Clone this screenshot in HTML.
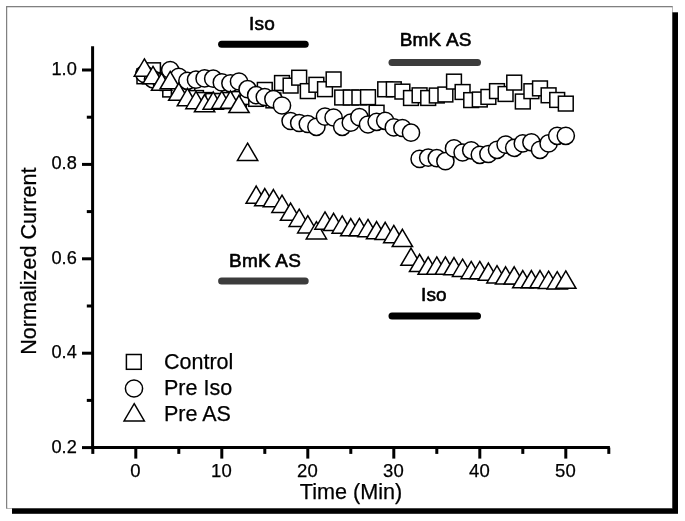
<!DOCTYPE html>
<html><head><meta charset="utf-8"><title>chart</title>
<style>
html,body{margin:0;padding:0;background:#fff;}
body{width:685px;height:521px;overflow:hidden;font-family:"Liberation Sans",sans-serif;}
svg{display:block;will-change:transform;}
</style></head><body>
<svg width="685" height="521" viewBox="0 0 685 521">
<rect x="0" y="0" width="685" height="521" fill="#fff"/>
<!-- shadow -->
<rect x="12" y="12.3" width="666" height="501.5" fill="#000"/>
<!-- frame -->
<rect x="6.65" y="6.65" width="665.35" height="501.35" fill="#fff" stroke="#808080" stroke-width="1.1"/>
<rect x="7.2" y="7.2" width="664.8" height="500.8" fill="#fff"/>
<path d="M6.65 508.5V6.65H672.5" fill="none" stroke="#808080" stroke-width="1.1"/>
<g stroke-width="7" stroke-linecap="round" fill="none">
<path d="M221.6 44.3H305.2" stroke="#000"/>
<path d="M392 62.5H477.5" stroke="#3c3c3c"/>
<path d="M221.6 281H305.2" stroke="#3c3c3c"/>
<path d="M392 316H477.5" stroke="#000"/>
</g>
<g fill="#fff" stroke="#000" stroke-width="1.5" stroke-linejoin="miter">
<rect x="137.00" y="68.90" width="14.8" height="14.8"/>
<rect x="145.60" y="62.85" width="14.8" height="14.8"/>
<rect x="154.20" y="72.60" width="14.8" height="14.8"/>
<rect x="162.80" y="82.10" width="14.8" height="14.8"/>
<rect x="171.40" y="83.60" width="14.8" height="14.8"/>
<rect x="180.00" y="87.60" width="14.8" height="14.8"/>
<rect x="188.60" y="90.60" width="14.8" height="14.8"/>
<rect x="197.20" y="92.60" width="14.8" height="14.8"/>
<rect x="205.80" y="93.60" width="14.8" height="14.8"/>
<rect x="214.40" y="93.60" width="14.8" height="14.8"/>
<rect x="223.00" y="92.60" width="14.8" height="14.8"/>
<rect x="231.60" y="91.60" width="14.8" height="14.8"/>
<rect x="240.20" y="89.60" width="14.8" height="14.8"/>
<rect x="248.80" y="91.50" width="14.8" height="14.8"/>
<rect x="257.40" y="82.50" width="14.8" height="14.8"/>
<rect x="266.00" y="93.00" width="14.8" height="14.8"/>
<rect x="274.60" y="75.60" width="14.8" height="14.8"/>
<rect x="283.20" y="78.20" width="14.8" height="14.8"/>
<rect x="291.80" y="70.30" width="14.8" height="14.8"/>
<rect x="300.40" y="83.70" width="14.8" height="14.8"/>
<rect x="309.00" y="77.40" width="14.8" height="14.8"/>
<rect x="317.60" y="81.80" width="14.8" height="14.8"/>
<rect x="326.20" y="72.00" width="14.8" height="14.8"/>
<rect x="334.80" y="90.10" width="14.8" height="14.8"/>
<rect x="343.40" y="90.10" width="14.8" height="14.8"/>
<rect x="352.00" y="90.10" width="14.8" height="14.8"/>
<rect x="360.60" y="89.80" width="14.8" height="14.8"/>
<rect x="369.20" y="105.30" width="14.8" height="14.8"/>
<rect x="377.80" y="81.90" width="14.8" height="14.8"/>
<rect x="386.40" y="81.90" width="14.8" height="14.8"/>
<rect x="395.00" y="84.20" width="14.8" height="14.8"/>
<rect x="403.60" y="90.60" width="14.8" height="14.8"/>
<rect x="412.20" y="87.90" width="14.8" height="14.8"/>
<rect x="420.80" y="90.60" width="14.8" height="14.8"/>
<rect x="429.40" y="88.10" width="14.8" height="14.8"/>
<rect x="438.00" y="87.10" width="14.8" height="14.8"/>
<rect x="446.60" y="74.20" width="14.8" height="14.8"/>
<rect x="455.20" y="84.60" width="14.8" height="14.8"/>
<rect x="463.80" y="92.70" width="14.8" height="14.8"/>
<rect x="472.40" y="92.10" width="14.8" height="14.8"/>
<rect x="481.00" y="89.50" width="14.8" height="14.8"/>
<rect x="489.60" y="83.70" width="14.8" height="14.8"/>
<rect x="498.20" y="86.60" width="14.8" height="14.8"/>
<rect x="506.80" y="75.20" width="14.8" height="14.8"/>
<rect x="515.40" y="94.10" width="14.8" height="14.8"/>
<rect x="524.00" y="83.80" width="14.8" height="14.8"/>
<rect x="532.60" y="81.00" width="14.8" height="14.8"/>
<rect x="541.20" y="87.90" width="14.8" height="14.8"/>
<rect x="549.80" y="92.55" width="14.8" height="14.8"/>
<rect x="558.40" y="96.20" width="14.8" height="14.8"/>
<circle cx="144.40" cy="74.00" r="8.6"/>
<circle cx="153.00" cy="79.30" r="8.6"/>
<circle cx="161.60" cy="82.00" r="8.6"/>
<circle cx="170.20" cy="70.00" r="8.6"/>
<circle cx="178.80" cy="76.80" r="8.6"/>
<circle cx="187.40" cy="80.80" r="8.6"/>
<circle cx="196.00" cy="79.70" r="8.6"/>
<circle cx="204.60" cy="78.40" r="8.6"/>
<circle cx="213.20" cy="78.70" r="8.6"/>
<circle cx="221.80" cy="82.40" r="8.6"/>
<circle cx="230.40" cy="83.30" r="8.6"/>
<circle cx="239.00" cy="81.50" r="8.6"/>
<circle cx="247.60" cy="89.20" r="8.6"/>
<circle cx="256.20" cy="95.20" r="8.6"/>
<circle cx="264.80" cy="97.00" r="8.6"/>
<circle cx="273.40" cy="99.10" r="8.6"/>
<circle cx="282.00" cy="105.50" r="8.6"/>
<circle cx="290.60" cy="121.00" r="8.6"/>
<circle cx="299.20" cy="123.00" r="8.6"/>
<circle cx="307.80" cy="124.00" r="8.6"/>
<circle cx="316.40" cy="126.80" r="8.6"/>
<circle cx="325.00" cy="116.60" r="8.6"/>
<circle cx="333.60" cy="117.50" r="8.6"/>
<circle cx="342.20" cy="126.80" r="8.6"/>
<circle cx="350.80" cy="122.70" r="8.6"/>
<circle cx="359.40" cy="117.10" r="8.6"/>
<circle cx="368.00" cy="124.50" r="8.6"/>
<circle cx="376.60" cy="121.80" r="8.6"/>
<circle cx="385.20" cy="120.80" r="8.6"/>
<circle cx="393.80" cy="127.40" r="8.6"/>
<circle cx="402.40" cy="128.00" r="8.6"/>
<circle cx="411.00" cy="132.70" r="8.6"/>
<circle cx="419.60" cy="158.90" r="8.6"/>
<circle cx="428.20" cy="157.70" r="8.6"/>
<circle cx="436.80" cy="158.20" r="8.6"/>
<circle cx="445.40" cy="161.20" r="8.6"/>
<circle cx="454.00" cy="148.40" r="8.6"/>
<circle cx="462.60" cy="152.50" r="8.6"/>
<circle cx="471.20" cy="150.30" r="8.6"/>
<circle cx="479.80" cy="154.80" r="8.6"/>
<circle cx="488.40" cy="154.00" r="8.6"/>
<circle cx="497.00" cy="149.80" r="8.6"/>
<circle cx="505.60" cy="144.60" r="8.6"/>
<circle cx="514.20" cy="147.80" r="8.6"/>
<circle cx="522.80" cy="143.40" r="8.6"/>
<circle cx="531.40" cy="142.30" r="8.6"/>
<circle cx="540.00" cy="149.80" r="8.6"/>
<circle cx="548.60" cy="143.40" r="8.6"/>
<circle cx="557.20" cy="135.80" r="8.6"/>
<circle cx="565.80" cy="135.80" r="8.6"/>
<path d="M144.40 58.87L154.55 76.17L134.25 76.17Z"/>
<path d="M153.00 66.47L163.15 83.77L142.85 83.77Z"/>
<path d="M161.60 73.07L171.75 90.37L151.45 90.37Z"/>
<path d="M170.20 71.47L180.35 88.77L160.05 88.77Z"/>
<path d="M178.80 83.07L188.95 100.37L168.65 100.37Z"/>
<path d="M187.40 88.47L197.55 105.77L177.25 105.77Z"/>
<path d="M196.00 91.37L206.15 108.67L185.85 108.67Z"/>
<path d="M204.60 94.57L214.75 111.87L194.45 111.87Z"/>
<path d="M213.20 91.87L223.35 109.17L203.05 109.17Z"/>
<path d="M221.80 91.17L231.95 108.47L211.65 108.47Z"/>
<path d="M230.40 90.87L240.55 108.17L220.25 108.17Z"/>
<path d="M239.00 95.27L249.15 112.57L228.85 112.57Z"/>
<path d="M247.60 143.17L257.75 160.47L237.45 160.47Z"/>
<path d="M256.20 186.07L266.35 203.37L246.05 203.37Z"/>
<path d="M264.80 188.57L274.95 205.87L254.65 205.87Z"/>
<path d="M273.40 189.57L283.55 206.87L263.25 206.87Z"/>
<path d="M282.00 195.17L292.15 212.47L271.85 212.47Z"/>
<path d="M290.60 203.07L300.75 220.37L280.45 220.37Z"/>
<path d="M299.20 209.17L309.35 226.47L289.05 226.47Z"/>
<path d="M307.80 215.67L317.95 232.97L297.65 232.97Z"/>
<path d="M316.40 221.67L326.55 238.97L306.25 238.97Z"/>
<path d="M325.00 211.87L335.15 229.17L314.85 229.17Z"/>
<path d="M333.60 213.27L343.75 230.57L323.45 230.57Z"/>
<path d="M342.20 215.87L352.35 233.17L332.05 233.17Z"/>
<path d="M350.80 218.57L360.95 235.87L340.65 235.87Z"/>
<path d="M359.40 218.47L369.55 235.77L349.25 235.77Z"/>
<path d="M368.00 219.37L378.15 236.67L357.85 236.67Z"/>
<path d="M376.60 221.57L386.75 238.87L366.45 238.87Z"/>
<path d="M385.20 222.27L395.35 239.57L375.05 239.57Z"/>
<path d="M393.80 225.47L403.95 242.77L383.65 242.77Z"/>
<path d="M402.40 229.27L412.55 246.57L392.25 246.57Z"/>
<path d="M411.00 248.07L421.15 265.37L400.85 265.37Z"/>
<path d="M419.60 254.27L429.75 271.57L409.45 271.57Z"/>
<path d="M428.20 257.07L438.35 274.37L418.05 274.37Z"/>
<path d="M436.80 256.97L446.95 274.27L426.65 274.27Z"/>
<path d="M445.40 256.97L455.55 274.27L435.25 274.27Z"/>
<path d="M454.00 257.57L464.15 274.87L443.85 274.87Z"/>
<path d="M462.60 259.17L472.75 276.47L452.45 276.47Z"/>
<path d="M471.20 261.37L481.35 278.67L461.05 278.67Z"/>
<path d="M479.80 261.37L489.95 278.67L469.65 278.67Z"/>
<path d="M488.40 263.07L498.55 280.37L478.25 280.37Z"/>
<path d="M497.00 265.67L507.15 282.97L486.85 282.97Z"/>
<path d="M505.60 266.77L515.75 284.07L495.45 284.07Z"/>
<path d="M514.20 266.77L524.35 284.07L504.05 284.07Z"/>
<path d="M522.80 270.57L532.95 287.87L512.65 287.87Z"/>
<path d="M531.40 270.57L541.55 287.87L521.25 287.87Z"/>
<path d="M540.00 270.57L550.15 287.87L529.85 287.87Z"/>
<path d="M548.60 271.17L558.75 288.47L538.45 288.47Z"/>
<path d="M557.20 271.67L567.35 288.97L547.05 288.97Z"/>
<path d="M565.80 270.97L575.95 288.27L555.65 288.27Z"/>
<rect x="126.40" y="354.50" width="14.8" height="14.8"/>
<circle cx="134.00" cy="388.50" r="8.6"/>
<path d="M134.20 403.62L144.35 420.92L124.05 420.92Z"/>
</g>
<g stroke="#000" stroke-width="3.0" stroke-linecap="butt" fill="none">
<path d="M92.6 46.2V449.1"/>
<path d="M91.1 447.6H609.9"/>
<path d="M82 447.60H92.6"/>
<path d="M86.8 400.40H92.6"/>
<path d="M82 353.20H92.6"/>
<path d="M86.8 306.00H92.6"/>
<path d="M82 258.80H92.6"/>
<path d="M86.8 211.60H92.6"/>
<path d="M82 164.40H92.6"/>
<path d="M86.8 117.20H92.6"/>
<path d="M82 70.00H92.6"/>
<path d="M92.80 447.6V453.9"/>
<path d="M135.80 447.6V458.6"/>
<path d="M178.80 447.6V453.9"/>
<path d="M221.80 447.6V458.6"/>
<path d="M264.80 447.6V453.9"/>
<path d="M307.80 447.6V458.6"/>
<path d="M350.80 447.6V453.9"/>
<path d="M393.80 447.6V458.6"/>
<path d="M436.80 447.6V453.9"/>
<path d="M479.80 447.6V458.6"/>
<path d="M522.80 447.6V453.9"/>
<path d="M565.80 447.6V458.6"/>
<path d="M608.80 447.6V453.9"/>
</g>
<g font-family="Liberation Sans, sans-serif" fill="#000" stroke="#000" stroke-width="0.25" stroke-linejoin="round">
<text x="76.8" y="452.50" font-size="18.2" text-anchor="end">0.2</text>
<text x="76.8" y="358.10" font-size="18.2" text-anchor="end">0.4</text>
<text x="76.8" y="263.70" font-size="18.2" text-anchor="end">0.6</text>
<text x="76.8" y="169.30" font-size="18.2" text-anchor="end">0.8</text>
<text x="76.8" y="74.90" font-size="18.2" text-anchor="end">1.0</text>
<text x="135.40" y="477.3" font-size="18.5" text-anchor="middle">0</text>
<text x="221.40" y="477.3" font-size="18.5" text-anchor="middle">10</text>
<text x="307.40" y="477.3" font-size="18.5" text-anchor="middle">20</text>
<text x="393.40" y="477.3" font-size="18.5" text-anchor="middle">30</text>
<text x="479.40" y="477.3" font-size="18.5" text-anchor="middle">40</text>
<text x="565.40" y="477.3" font-size="18.5" text-anchor="middle">50</text>
<text x="351" y="499.2" font-size="21.6" text-anchor="middle">Time (Min)</text>
<text transform="translate(36.2 261.2) rotate(-90)" font-size="21.6" text-anchor="middle">Normalized Current</text>
<text x="164.0" y="369.3" font-size="21.5">Control</text>
<text x="164.0" y="395.3" font-size="21.5">Pre Iso</text>
<text x="164.0" y="421.1" font-size="21.5">Pre AS</text>
<g font-size="19" text-anchor="middle" stroke="#000" stroke-width="0.6" stroke-linejoin="round" letter-spacing="0.2">
<text x="262" y="30.1">Iso</text>
<text x="435.7" y="45.9">BmK AS</text>
<text x="265.1" y="267">BmK AS</text>
<text x="433.9" y="301.2">Iso</text>
</g></g>
</svg>
</body></html>
